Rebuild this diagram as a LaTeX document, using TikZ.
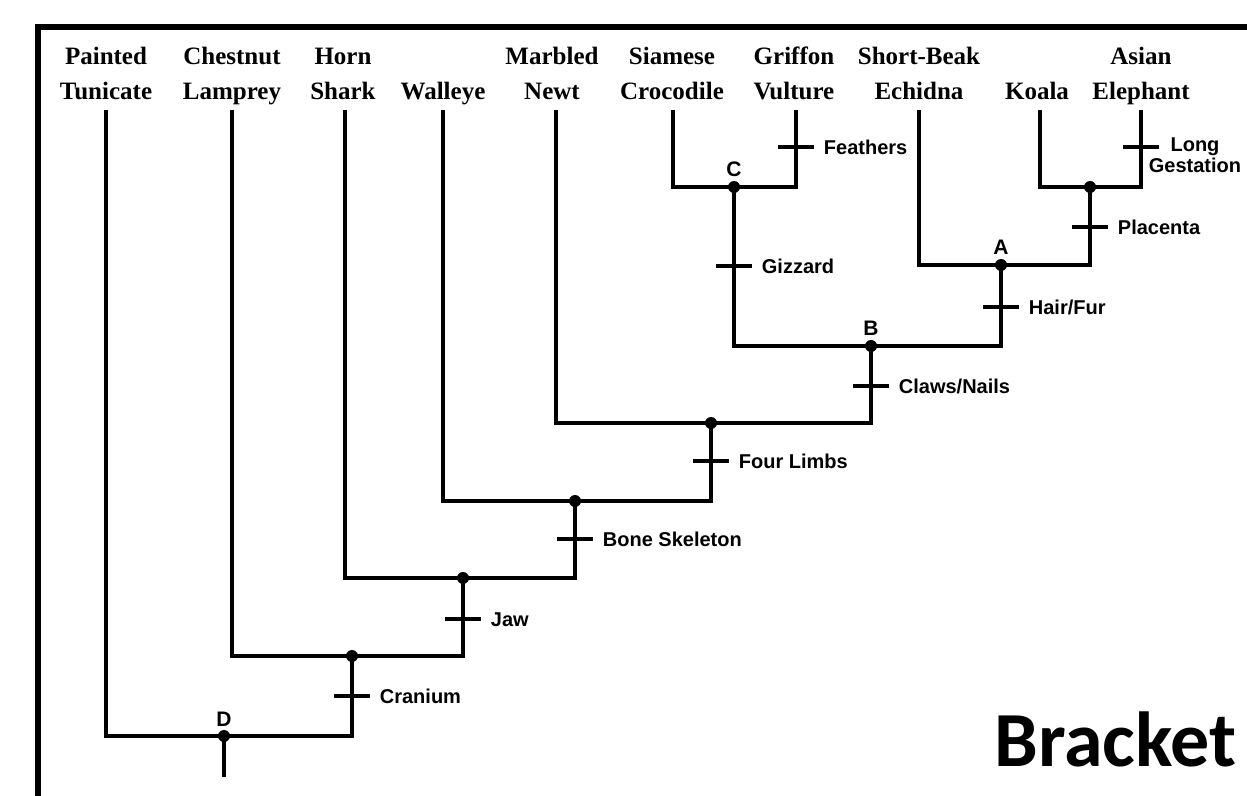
\documentclass[tikz,border=0pt]{standalone}
\usepackage{fontspec}
\setmainfont{Liberation Serif}
\setsansfont{Liberation Sans}
\newfontfamily\bracketfont{Carlito}

\tikzset{
  branch/.style={line width=1.9pt},
  taxon/.style={font=\fontsize{12.5}{17.5}\selectfont\bfseries, align=center, anchor=base, inner sep=0pt},
  traitfont/.style={font=\sffamily\bfseries\fontsize{10}{10.5}\selectfont, inner sep=0pt},
  trait/.style={traitfont, anchor=base west, xshift=4pt, yshift=-3.6pt},
  clade/.style={font=\sffamily\bfseries\fontsize{10.5}{12}\selectfont, anchor=base, inner sep=0pt, yshift=5pt},
}

\begin{document}
\begin{tikzpicture}[x=0.5pt, y=-0.5pt]
\useasboundingbox (0,0) rectangle (1247,796);
\draw[line width=3pt] (38,796) -- (38,27) -- (1247,27);

% taxa (base = last line)
\node[taxon] (n-tun) at (106,100) {Painted\\Tunicate};
\node[taxon] (n-lam) at (232,100) {Chestnut\\Lamprey};
\node[taxon] (n-shk) at (343,100) {Horn\\Shark};
\node[taxon] (n-wal) at (443,100) {Walleye};
\node[taxon] (n-nwt) at (552,100) {Marbled\\Newt};
\node[taxon] (n-cro) at (672,100) {Siamese\\Crocodile};
\node[taxon] (n-vul) at (794,100) {Griffon\\Vulture};
\node[taxon] (n-ech) at (919,100) {Short-Beak\\Echidna};
\node[taxon] (n-koa) at (1037,100) {Koala};
\node[taxon] (n-ele) at (1141,100) {Asian\\Elephant};

\foreach \n/\x in {tun/106, lam/232, shk/345, wal/443, nwt/556, cro/673, vul/796, ech/919, koa/1040, ele/1141}
  \coordinate (\n) at (\x,110);

% joins
\coordinate (D) at (224,736);
\coordinate (cr) at (352,656);
\coordinate (ja) at (463,578);
\coordinate (bs) at (575,501);
\coordinate (fl) at (711,423);
\coordinate (B) at (871,346);
\coordinate (A) at (1001,265);
\coordinate (pl) at (1090,187);
\coordinate (C) at (734,187);
\coordinate (root) at (224,777);

\draw[branch] (tun) |- (D) -| (cr);
\draw[branch] (lam) |- (cr) -| (ja);
\draw[branch] (shk) |- (ja) -| (bs);
\draw[branch] (wal) |- (bs) -| (fl);
\draw[branch] (nwt) |- (fl) -| (B);
\draw[branch] (C) |- (B) -| (A);
\draw[branch] (cro) |- (C) -| (vul);
\draw[branch] (ech) |- (A) -| (pl);
\draw[branch] (koa) |- (pl) -| (ele);
\draw[branch] (D) -- (root);

\foreach \p in {D,cr,ja,bs,fl,B,A,pl,C} \fill (\p) circle[radius=3pt];

\node[clade] (l-A) at (A) {A};
\node[clade] (l-B) at (B) {B};
\node[clade] (l-C) at (C) {C};
\node[clade] (l-D) at (D) {D};

% traits
\foreach \x/\y/\t in {352/696/Cranium, 463/619/Jaw, 575/539/{Bone Skeleton}, 711/461/{Four Limbs}, 871/386/{Claws/Nails}, 734/266/Gizzard, 1001/307/{Hair/Fur}, 1090/227/Placenta, 796/147/Feathers}
  \draw[branch] (\x-18,\y) -- (\x+18,\y) node[trait] (t\x) {\t};
\draw[branch] (1123,147) -- (1159,147);
\node[traitfont, align=center, anchor=base] (t-gest) at (1195,173) {Long\\Gestation};

\node[anchor=base west, inner sep=0pt, font=\bracketfont\bfseries\fontsize{39}{46}\selectfont] (title) at (994,766) {Bracket};
\end{tikzpicture}
\end{document}
